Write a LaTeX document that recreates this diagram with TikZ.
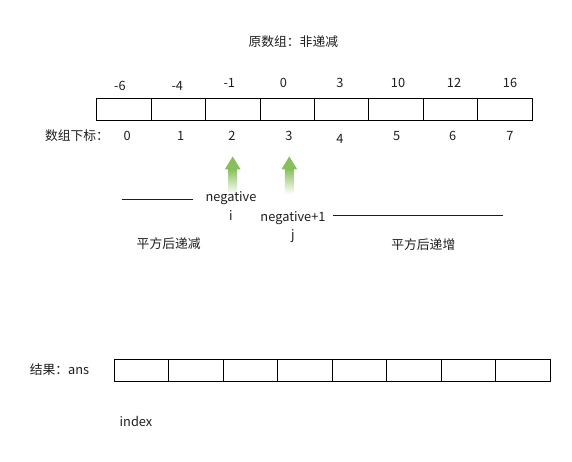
\documentclass[tikz,border=0pt]{standalone}
\usepackage{fontspec}
\setmainfont{Noto Sans CJK SC}
\definecolor{arrgreen}{RGB}{134,192,92}
\definecolor{txt}{RGB}{30,30,30}
\begin{document}
\begin{tikzpicture}[x=1pt,y=-1pt,
  every node/.style={font=\fontsize{12.8}{15}\selectfont, inner sep=0pt, text=txt},
  cell/.style={draw=black, line width=1pt, minimum width=54.45pt, minimum height=22pt},
  lbl/.style={anchor=center},
  sepline/.style={draw=txt, line width=0.8pt}]
\useasboundingbox (0,0) rectangle (572,462);
% title
\node[lbl] (title) at (293.3,42) {原数组：非递减};
% top array
\foreach \i in {0,...,7} {
  \node[cell] (t\i) at ({96.7+54.45*\i+27.225},110) {};
}
% values
\node[lbl] (v0) at (120,86) {-6};
\node[lbl] (v1) at (177.3,86) {-4};
\node[lbl] (v2) at (229.3,83) {-1};
\node[lbl] (v3) at (283.3,83) {0};
\node[lbl] (v4) at (340,83) {3};
\node[lbl] (v5) at (398,83) {10};
\node[lbl] (v6) at (454,83) {12};
\node[lbl] (v7) at (510,83) {16};
% indices
\node[lbl] (idxlbl) at (77,136) {数组下标：};
\node[lbl] (i0) at (127.3,136) {0};
\node[lbl] (i1) at (180.7,136) {1};
\node[lbl] (i2) at (232,136) {2};
\node[lbl] (i3) at (289,136) {3};
\node[lbl] (i4) at (340,139) {4};
\node[lbl] (i5) at (396.7,136) {5};
\node[lbl] (i6) at (452.7,136) {6};
\node[lbl] (i7) at (510,136) {7};
% arrows
\foreach \X/\n in {232.7/a, 289.3/b} {
  \shade[top color=arrgreen, bottom color=white] (\X-4.5,169) rectangle (\X+4.5,194);
  \fill[arrgreen] (\X,156.5) -- (\X+8,169.5) -- (\X-8,169.5) -- cycle;
  \coordinate (arr\n) at (\X,156.5);
}
% pointer labels
\node[lbl] (neg) at (231,198.3) {negative};
\node[lbl] (ii) at (231,216) {i};
\node[lbl] (neg1) at (293,218.3) {negative+1};
\node[lbl] (jj) at (293,236) {j};
% separator lines
\coordinate (l1a) at (121.7,199.3);
\coordinate (l1b) at (193.3,199.3);
\coordinate (l2a) at (333.3,215.7);
\coordinate (l2b) at (503.3,215.7);
\draw[sepline] (l1a) -- (l1b);
\draw[sepline] (l2a) -- (l2b);
\node[lbl] (dec) at (168.7,243.5) {平方后递减};
\node[lbl] (inc) at (423.3,244.3) {平方后递增};
% result array
\node[lbl] (res) at (59.5,370) {结果：ans};
\foreach \i in {0,...,7} {
  \node[cell] (b\i) at ({114.3+54.5*\i+27.25},370.3) {};
}
\node[lbl] (index) at (136,421) {index};
\end{tikzpicture}
\end{document}
